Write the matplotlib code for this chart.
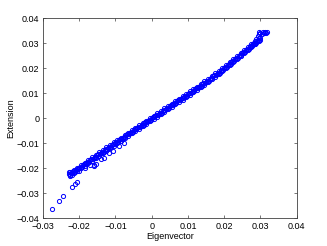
import matplotlib
matplotlib.use("Agg")
import matplotlib.pyplot as plt

plt.rcParams['font.family'] = ['Liberation Sans', 'DejaVu Sans']

# central row of the dense band
eig_center = [-0.022, -0.021, -0.020, -0.019, -0.018, -0.017, -0.016, -0.015, -0.014, -0.013,
              -0.012, -0.011, -0.010, -0.009, -0.008, -0.007, -0.006, -0.005, -0.004, -0.003,
              -0.002, -0.001, 0.000, 0.001, 0.002, 0.003, 0.004, 0.005, 0.006, 0.007,
              0.008, 0.009, 0.010, 0.011, 0.012, 0.013, 0.014, 0.015, 0.016, 0.017,
              0.018, 0.019, 0.020, 0.021, 0.022, 0.023, 0.024, 0.025, 0.026, 0.027,
              0.028, 0.029, 0.030]
ext_center = [-0.0218, -0.0208, -0.0198, -0.0188, -0.0178, -0.0167, -0.0157, -0.0147, -0.0137, -0.0127,
              -0.0117, -0.0107, -0.0097, -0.0087, -0.0078, -0.0068, -0.0058, -0.0048, -0.0039, -0.0029,
              -0.0019, -0.0010, 0.0000, 0.0010, 0.0019, 0.0029, 0.0039, 0.0048, 0.0058, 0.0068,
              0.0077, 0.0087, 0.0097, 0.0107, 0.0116, 0.0126, 0.0137, 0.0147, 0.0157, 0.0168,
              0.0179, 0.0190, 0.0201, 0.0213, 0.0225, 0.0237, 0.0250, 0.0262, 0.0274, 0.0286,
              0.0297, 0.0310, 0.0322]

# offset rows of the band
eig_side = [-0.0225, -0.0215, -0.0205, -0.0195, -0.0185, -0.0175, -0.0165, -0.0155, -0.0145, -0.0135,
            -0.0125, -0.0115, -0.0105, -0.0095, -0.0085, -0.0075, -0.0065, -0.0055, -0.0045, -0.0035,
            -0.0025, -0.0015, -0.0005, 0.0005, 0.0015, 0.0025, 0.0035, 0.0045, 0.0055, 0.0065,
            0.0075, 0.0085, 0.0095, 0.0105, 0.0115, 0.0125, 0.0135, 0.0145, 0.0155, 0.0165,
            0.0175, 0.0185, 0.0195, 0.0205, 0.0215, 0.0225, 0.0235, 0.0245, 0.0255, 0.0265,
            0.0275, 0.0285, 0.0295]
ext_upper = [-0.0216, -0.0207, -0.0197, -0.0187, -0.0177, -0.0166, -0.0156, -0.0146, -0.0136, -0.0126,
             -0.0116, -0.0106, -0.0096, -0.0086, -0.0077, -0.0067, -0.0057, -0.0047, -0.0038, -0.0028,
             -0.0018, -0.0009, 0.0001, 0.0011, 0.0020, 0.0030, 0.0040, 0.0050, 0.0059, 0.0069,
             0.0079, 0.0088, 0.0098, 0.0108, 0.0118, 0.0127, 0.0138, 0.0148, 0.0158, 0.0169,
             0.0180, 0.0191, 0.0202, 0.0213, 0.0225, 0.0237, 0.0250, 0.0262, 0.0274, 0.0286,
             0.0298, 0.0310, 0.0322]
ext_lower = [-0.0230, -0.0220, -0.0210, -0.0200, -0.0190, -0.0179, -0.0169, -0.0159, -0.0149, -0.0139,
             -0.0129, -0.0119, -0.0109, -0.0099, -0.0090, -0.0080, -0.0070, -0.0060, -0.0051, -0.0041,
             -0.0031, -0.0021, -0.0012, -0.0002, 0.0007, 0.0017, 0.0027, 0.0037, 0.0046, 0.0056,
             0.0066, 0.0075, 0.0085, 0.0095, 0.0104, 0.0114, 0.0125, 0.0135, 0.0145, 0.0156,
             0.0167, 0.0178, 0.0189, 0.0200, 0.0212, 0.0224, 0.0237, 0.0249, 0.0261, 0.0273,
             0.0285, 0.0297, 0.0309]

# quarter-step rows filling the band
eig_q1 = [-0.02175, -0.02075, -0.01975, -0.01875, -0.01775, -0.01675, -0.01575, -0.01475, -0.01375, -0.01275,
          -0.01175, -0.01075, -0.00975, -0.00875, -0.00775, -0.00675, -0.00575, -0.00475, -0.00375, -0.00275,
          -0.00175, -0.00075, 0.00025, 0.00125, 0.00225, 0.00325, 0.00425, 0.00525, 0.00625, 0.00725,
          0.00825, 0.00925, 0.01025, 0.01125, 0.01225, 0.01325, 0.01425, 0.01525, 0.01625, 0.01725,
          0.01825, 0.01925, 0.02025, 0.02125, 0.02225, 0.02325, 0.02425, 0.02525, 0.02625, 0.02725,
          0.02825, 0.02925]
eig_q3 = [-0.02125, -0.02025, -0.01925, -0.01825, -0.01725, -0.01625, -0.01525, -0.01425, -0.01325, -0.01225,
          -0.01125, -0.01025, -0.00925, -0.00825, -0.00725, -0.00625, -0.00525, -0.00425, -0.00325, -0.00225,
          -0.00125, -0.00025, 0.00075, 0.00175, 0.00275, 0.00375, 0.00475, 0.00575, 0.00675, 0.00775,
          0.00875, 0.00975, 0.01075, 0.01175, 0.01275, 0.01375, 0.01475, 0.01575, 0.01675, 0.01775,
          0.01875, 0.01975, 0.02075, 0.02175, 0.02275, 0.02375, 0.02475, 0.02575, 0.02675, 0.02775,
          0.02875, 0.02975]
ext_q = [-0.0214, -0.0204, -0.0194, -0.0184, -0.0174, -0.0163, -0.0153, -0.0143, -0.0133, -0.0123,
         -0.0113, -0.0103, -0.0093, -0.0083, -0.0074, -0.0064, -0.0054, -0.0044, -0.0035, -0.0025,
         -0.0015, -0.0006, 0.0004, 0.0014, 0.0023, 0.0033, 0.0043, 0.0052, 0.0062, 0.0072,
         0.0081, 0.0091, 0.0101, 0.0111, 0.0120, 0.0130, 0.0141, 0.0151, 0.0161, 0.0172,
         0.0183, 0.0194, 0.0205, 0.0217, 0.0229, 0.0241, 0.0254, 0.0266, 0.0278, 0.0290,
         0.0301, 0.0314]

# clusters and scattered points
eig_extra = [0.0288, 0.0292, 0.0296, 0.0300, 0.0303, 0.0306, 0.0310, 0.0313, 0.0316, 0.0319,
             0.0297, 0.0282, 0.0278, 0.0284,
             -0.0229, -0.0227, -0.0226, -0.0223, -0.0220, -0.0218,
             -0.0159, -0.0141, -0.0133, -0.0118, -0.0108, -0.0091, -0.0077, -0.0200, -0.0185, -0.0170,
             -0.0274, -0.0257, -0.0244, -0.0220, -0.0211, -0.0205, -0.0158, -0.0154]
ext_extra = [0.0318, 0.0328, 0.0336, 0.0342, 0.0336, 0.0344, 0.0340, 0.0346, 0.0342, 0.0347,
             0.0346, 0.0302, 0.0292, 0.0296,
             -0.0222, -0.0216, -0.0226, -0.0220, -0.0226, -0.0211,
             -0.0188, -0.0164, -0.0157, -0.0137, -0.0131, -0.0111, -0.0097, -0.0212, -0.0198, -0.0185,
             -0.0364, -0.0332, -0.0311, -0.0276, -0.0263, -0.0255, -0.0191, -0.0184]

x_ticks = [-0.03, -0.02, -0.01, 0, 0.01, 0.02, 0.03, 0.04]
x_ticklabels = ['\u22120.03', '\u22120.02', '\u22120.01', '0', '0.01', '0.02', '0.03', '0.04']
y_ticks = [-0.04, -0.03, -0.02, -0.01, 0, 0.01, 0.02, 0.03, 0.04]
y_ticklabels = ['\u22120.04', '\u22120.03', '\u22120.02', '\u22120.01', '0', '0.01', '0.02', '0.03', '0.04']

fig = plt.figure(figsize=(3.27, 2.46), dpi=100)
ax = fig.add_axes([43/327, 1-218.3/246, (296.7-43)/327, (218.3-18.3)/246])

mk = dict(marker='o', linestyle='none', markersize=3.0, markerfacecolor='none',
          markeredgecolor='#0000ff', markeredgewidth=0.7)
ax.plot(eig_center, ext_center, **mk)
ax.plot(eig_side, ext_upper, **mk)
ax.plot(eig_side, ext_lower, **mk)
ax.plot(eig_q1, ext_q, **mk)
ax.plot(eig_q3, ext_q, **mk)
ax.plot(eig_extra, ext_extra, **mk)

ax.set_xlim(-0.03, 0.04)
ax.set_ylim(-0.04, 0.04)
ax.set_xticks(x_ticks)
ax.set_xticklabels(x_ticklabels)
ax.set_yticks(y_ticks)
ax.set_yticklabels(y_ticklabels)
ax.tick_params(direction='in', length=2.5, width=0.5, labelsize=6.5, top=True, right=True,
               colors='#404040', labelcolor='black')
ax.tick_params(axis='x', pad=2.8)
ax.tick_params(axis='y', pad=2.5)
for s in ax.spines.values():
    s.set_linewidth(0.6)
    s.set_color('#404040')
ax.set_xlabel('Eigenvector', fontsize=6.5, labelpad=0.3)
ax.set_ylabel('Extension', fontsize=6.5, labelpad=1.2)

fig.savefig('out.png', dpi=100)
